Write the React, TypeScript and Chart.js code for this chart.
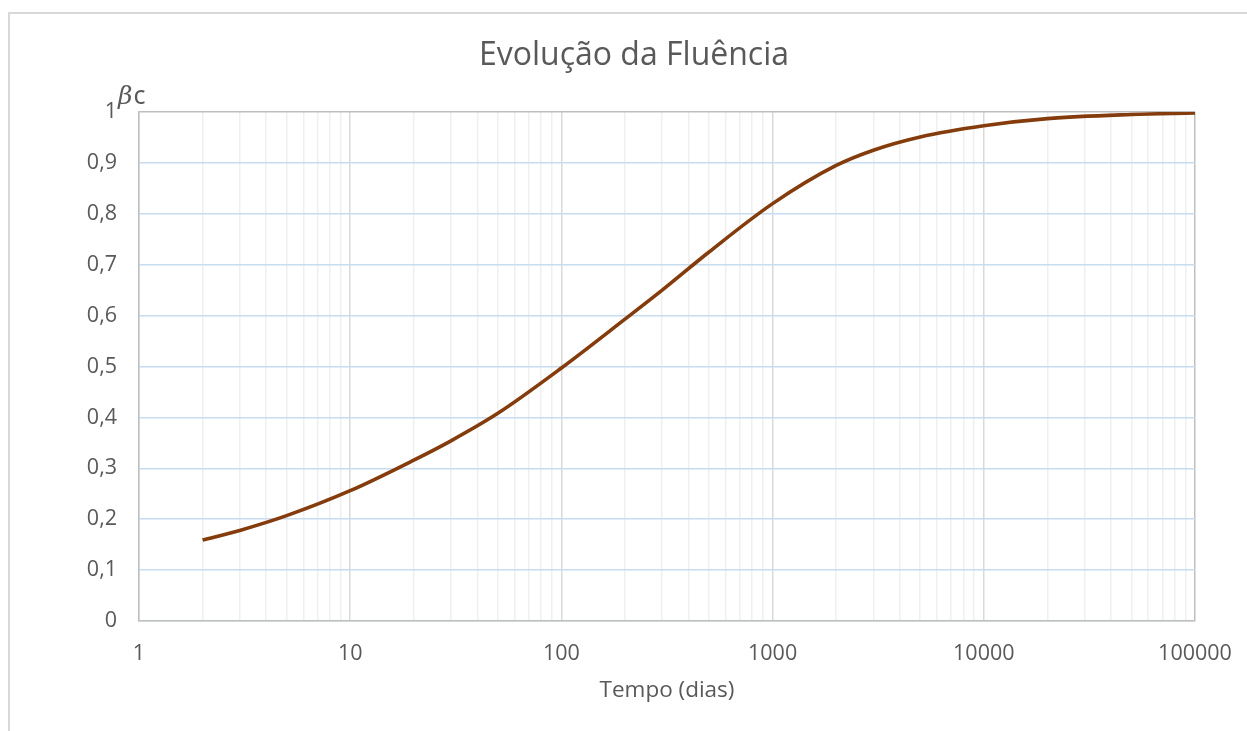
import React, { useEffect, useRef } from "react";
import { Chart, registerables } from "chart.js";

Chart.register(...registerables);

const chartTitle = "Evolução da Fluência";
const xAxisTitle = "Tempo (dias)";
const yUnitLabel = ["β", "c"];

const tempoDias = [2, 3, 5, 10, 20, 30, 50, 100, 200, 300, 500, 1000, 2000, 3000, 5000, 10000, 20000, 50000, 100000];
const betaC = [0.159, 0.178, 0.207, 0.256, 0.316, 0.354, 0.408, 0.497, 0.593, 0.65, 0.725, 0.82, 0.895, 0.925, 0.951, 0.973, 0.987, 0.995, 0.998];

const xMajorTicks = [1, 10, 100, 1000, 10000, 100000];
const xTickLabels = ["1", "10", "100", "1000", "10000", "100000"];
const yTickValues = [0, 0.1, 0.2, 0.3, 0.4, 0.5, 0.6, 0.7, 0.8, 0.9, 1];
const yTickLabels = ["0", "0,1", "0,2", "0,3", "0,4", "0,5", "0,6", "0,7", "0,8", "0,9", "1"];

const TEXT = "#595959";
const FONT = "'Open Sans', 'Noto Sans', sans-serif";

export default function App() {
  const ref = useRef<HTMLCanvasElement | null>(null);

  useEffect(() => {
    const canvas = ref.current;
    if (!canvas) return;

    const unitPlugin = {
      id: "unitLabel",
      afterDraw(chart: any) {
        const { ctx, chartArea } = chart;
        ctx.save();
        ctx.fillStyle = TEXT;
        ctx.textBaseline = "alphabetic";
        ctx.textAlign = "left";
        const bx = chartArea.left - 21;
        const by = chartArea.top - 8;
        ctx.font = "italic 25px 'DejaVu Serif', serif";
        ctx.fillText(yUnitLabel[0], bx, by);
        const w = ctx.measureText(yUnitLabel[0]).width;
        ctx.font = "25px 'Noto Sans', sans-serif";
        ctx.fillText(yUnitLabel[1], bx + w + 1, by);
        ctx.restore();
      },
    };

    const chart = new Chart(canvas, {
      type: "line",
      data: {
        datasets: [
          {
            data: tempoDias.map((t, i) => ({ x: t, y: betaC[i] })),
            borderColor: "#843c0c",
            borderWidth: 3.6,
            pointRadius: 0,
            cubicInterpolationMode: "monotone",
            fill: false,
          },
        ],
      },
      options: {
        responsive: false,
        animation: false,
        layout: { padding: { top: 0, left: 73, right: 52, bottom: 0 } },
        plugins: {
          legend: { display: false },
          tooltip: { enabled: false },
          title: {
            display: true,
            text: chartTitle,
            color: TEXT,
            font: { family: FONT, size: 32, weight: "normal" },
            padding: { top: 37, bottom: 36.6 },
          },
        },
        scales: {
          x: {
            type: "logarithmic",
            min: 1,
            max: 100000,
            afterBuildTicks: (scale: any) => {
              const ticks: any[] = [];
              for (let d = 1; d < 100000; d *= 10) {
                for (let m = 1; m <= 9; m++) ticks.push({ value: d * m, major: m === 1 });
              }
              ticks.push({ value: 100000, major: true });
              scale.ticks = ticks;
            },
            afterFit: (scale: any) => {
              scale.height = 110;
              scale.paddingLeft = 0;
              scale.paddingRight = 0;
            },
            ticks: {
              autoSkip: false,
              maxRotation: 0,
              minRotation: 0,
              color: TEXT,
              padding: 20,
              font: { family: FONT, size: 21.5 },
              callback: (value: any) => {
                const i = xMajorTicks.indexOf(Number(value));
                return i >= 0 ? xTickLabels[i] : "";
              },
            },
            grid: {
              drawTicks: false,
              lineWidth: 1.5,
              color: (c: any) => {
                const v = c.tick ? c.tick.value : 0;
                if (v === 100000) return "#bfbfbf";
                return xMajorTicks.indexOf(v) >= 0 ? "#d9d9d9" : "#efefef";
              },
            },
            border: { display: true, color: "#bfbfbf", width: 1.5 },
            title: {
              display: true,
              text: xAxisTitle,
              color: TEXT,
              font: { family: FONT, size: 22.5 },
              padding: { top: 0, bottom: 27 },
            },
          },
          y: {
            type: "linear",
            min: 0,
            max: 1,
            afterBuildTicks: (scale: any) => {
              scale.ticks = yTickValues.map((v) => ({ value: v }));
            },
            afterFit: (scale: any) => {
              scale.width = 66;
            },
            ticks: {
              color: TEXT,
              padding: 22,
              font: { family: FONT, size: 21.5 },
              callback: (_v: any, i: number) => yTickLabels[i],
            },
            grid: {
              drawTicks: false,
              lineWidth: 1.5,
              color: (c: any) => (c.tick && c.tick.value === 1 ? "#bfbfbf" : "#c8dcf0"),
            },
            border: { display: true, color: "#bfbfbf", width: 1.5 },
          },
        },
      },
      plugins: [unitPlugin],
    } as any);

    return () => chart.destroy();
  }, []);

  return (
    <div style={{ position: "fixed", inset: 0, overflow: "hidden", background: "#fff" }}>
      <div
        style={{
          position: "absolute",
          left: 8,
          top: 12,
          width: 2000,
          height: 2000,
          borderTop: "2px solid #d9d9d9",
          borderLeft: "2px solid #d9d9d9",
        }}
      />
      <canvas
        ref={ref}
        width={1247}
        height={731}
        style={{ position: "absolute", left: 0, top: 0, width: 1247, height: 731 }}
      />
    </div>
  );
}
